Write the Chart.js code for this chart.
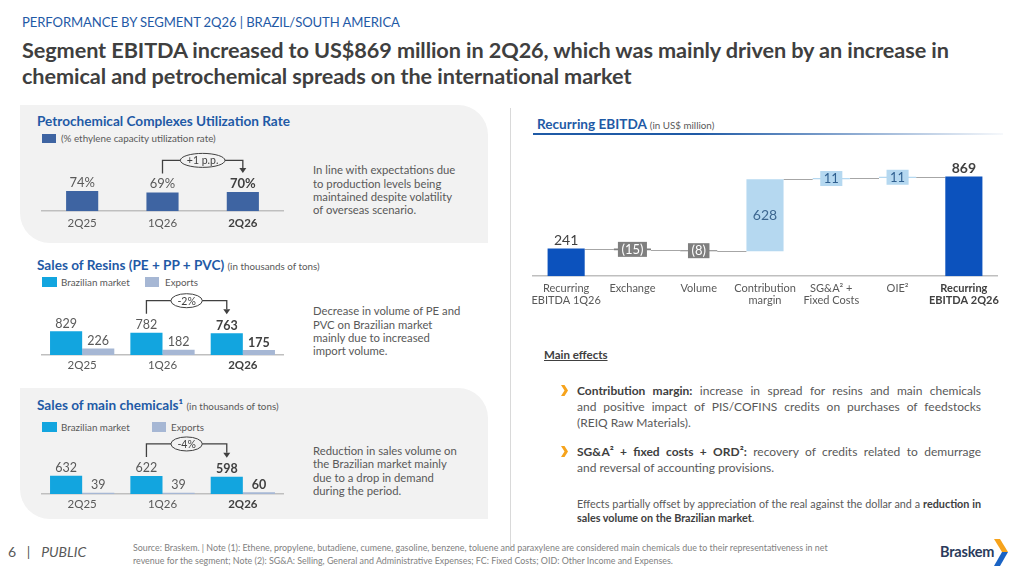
<!DOCTYPE html>
<html>
<head>
<meta charset="utf-8">
<script src="https://cdn.jsdelivr.net/npm/chart.js@4.4.1/dist/chart.umd.min.js"></script>
<style>
  body { margin: 0; width: 1019px; height: 573px; position: relative; overflow: hidden; background: #fff; font-family: Lato, "Open Sans", sans-serif; color: #595959; }
  .abs { position: absolute; white-space: nowrap; }
  .panel { position: absolute; background: #f2f2f2; border-radius: 0 30px 0 30px; }
  .hdr { color: #1f5aa6; font-size: 13.1px; line-height: 16px; letter-spacing: -0.1px; }
  .ttl { color: #3f3f3f; font-size: 21.7px; line-height: 26px; font-weight: 700; letter-spacing: -0.1px; }
  .sec { color: #1f5aa6; font-size: 13.6px; line-height: 16px; font-weight: 700; letter-spacing: 0; }
  .sec small { color: #595959; font-size: 9.8px; font-weight: 400; letter-spacing: 0; }
  .sq { position: absolute; }
  .leg { font-size: 9.8px; line-height: 12px; color: #595959; }
  .note { font-size: 11.3px; line-height: 13.3px; color: #595959; }
  .jl { text-align: justify; text-align-last: justify; white-space: nowrap; }
  .bul { font-size: 12px; line-height: 16px; color: #595959; width: 404px; }
  .bul b { color: #404040; }
  .par { font-size: 10.8px; line-height: 13.3px; color: #595959; width: 404px; }
  .par b { color: #404040; }
  canvas { position: absolute; }
</style>
</head>
<body>

<div class="abs hdr" style="left:22px;top:14px">PERFORMANCE BY SEGMENT 2Q26 | BRAZIL/SOUTH AMERICA</div>
<div class="abs ttl" style="left:22px;top:37px">Segment EBITDA increased to US$869 million in 2Q26, which was mainly driven by an increase in</div>
<div class="abs ttl" style="left:22px;top:63px">chemical and petrochemical spreads on the international market</div>

<div class="panel" style="left:20px;top:105px;width:468px;height:138px"></div>
<div class="panel" style="left:20px;top:388px;width:468px;height:131px"></div>
<div class="abs" style="left:510px;top:108px;width:1px;height:442px;background:#d9d9d9"></div>

<!-- utilization -->
<div class="abs sec" style="left:37px;top:113px">Petrochemical Complexes Utilization Rate</div>
<div class="sq" style="left:42px;top:134px;width:14px;height:9px;background:#3e64a2"></div>
<div class="abs leg" style="left:61px;top:132px">(% ethylene capacity utilization rate)</div>
<div class="abs note" style="left:313px;top:163.4px">In line with expectations due<br>to production levels being<br>maintained despite volatility<br>of overseas scenario.</div>
<canvas id="utilChart" width="300" height="102" style="left:0;top:133px"></canvas>

<!-- resins -->
<div class="abs sec" style="left:37px;top:257px">Sales of Resins (PE + PP + PVC) <small>(in thousands of tons)</small></div>
<div class="sq" style="left:42px;top:277px;width:15px;height:10px;background:#12a5df"></div>
<div class="abs leg" style="left:61px;top:276px">Brazilian market</div>
<div class="sq" style="left:145px;top:277px;width:14px;height:10px;background:#a6b7d4"></div>
<div class="abs leg" style="left:165px;top:276px">Exports</div>
<div class="abs note" style="left:313px;top:304.4px">Decrease in volume of PE and<br>PVC on Brazilian market<br>mainly due to increased<br>import volume.</div>
<canvas id="resinChart" width="300" height="88" style="left:0;top:288px"></canvas>

<!-- chemicals -->
<div class="abs sec" style="left:37px;top:397px">Sales of main chemicals¹ <small>(in thousands of tons)</small></div>
<div class="sq" style="left:42px;top:422px;width:15px;height:10px;background:#12a5df"></div>
<div class="abs leg" style="left:61px;top:421px">Brazilian market</div>
<div class="sq" style="left:152px;top:422px;width:14px;height:10px;background:#a6b7d4"></div>
<div class="abs leg" style="left:171px;top:421px">Exports</div>
<div class="abs note" style="left:313px;top:444px">Reduction in sales volume on<br>the Brazilian market mainly<br>due to a drop in demand<br>during the period.</div>
<canvas id="chemChart" width="300" height="89" style="left:0;top:426px"></canvas>

<!-- recurring EBITDA -->
<div class="abs sec" style="left:537px;top:116px">Recurring EBITDA <small>(in US$ million)</small></div>
<div class="abs" style="left:533px;top:133px;width:470px;height:1.5px;background:linear-gradient(to right,#1f5aa6,#1f5aa6 35%,rgba(31,90,166,0.04))"></div>
<canvas id="ebitdaChart" width="499" height="173" style="left:520px;top:140px"></canvas>

<div class="abs" style="left:544px;top:347px;font-size:11.5px;line-height:16px;font-weight:700;color:#404040;text-decoration:underline">Main effects</div>

<svg class="abs" style="left:561px;top:385px" width="7" height="11"><path d="M0,0 L3.5,0 L7,5.5 L3.5,11 L0,11 L3.5,5.5 Z" fill="#f6a31c"/></svg>
<div class="abs bul" style="left:577px;top:382.7px">
  <div class="jl"><b>Contribution margin:</b> increase in spread for resins and main chemicals</div>
  <div class="jl">and positive impact of PIS/COFINS credits on purchases of feedstocks</div>
  <div>(REIQ Raw Materials).</div>
</div>
<svg class="abs" style="left:561px;top:446px" width="7" height="11"><path d="M0,0 L3.5,0 L7,5.5 L3.5,11 L0,11 L3.5,5.5 Z" fill="#f6a31c"/></svg>
<div class="abs bul" style="left:577px;top:443.7px">
  <div class="jl"><b>SG&amp;A² + fixed costs + ORD²:</b> recovery of credits related to demurrage</div>
  <div>and reversal of accounting provisions.</div>
</div>
<div class="abs par" style="left:577px;top:497.3px">
  <div class="jl">Effects partially offset by appreciation of the real against the dollar and a <b>reduction in</b></div>
  <div><b>sales volume on the Brazilian market</b>.</div>
</div>

<!-- footer -->
<div class="abs" style="left:8px;top:543px;font-size:14px;line-height:18px;color:#595959">6&nbsp;&nbsp;&nbsp;|&nbsp;&nbsp;&nbsp;<i>PUBLIC</i></div>
<div class="abs" style="left:133px;top:540.5px;font-size:8.9px;line-height:13px;color:#7f7f7f">Source: Braskem. | Note (1): Ethene, propylene, butadiene, cumene, gasoline, benzene, toluene and paraxylene are considered main chemicals due to their representativeness in net<br>revenue for the segment; Note (2): SG&amp;A: Selling, General and Administrative Expenses; FC: Fixed Costs; OID: Other Income and Expenses.</div>
<div class="abs" style="left:940px;top:543px;font-size:14.5px;line-height:18px;font-weight:700;color:#2b3b5c;letter-spacing:-0.2px">Braskem</div>
<svg class="abs" style="left:994px;top:539px" width="15" height="27">
  <path d="M0,0 L6,0 L14,13 L8,13 Z" fill="#f6a31c"/>
  <path d="M8,13 L14,13 L6,27 L0,27 Z" fill="#1a63c4"/>
</svg>

<script>
// quarters shown in the three left charts
const periods = ['2Q25', '1Q26', '2Q26'];

// ethylene capacity utilization (%)
const utilization = [74, 69, 70];

// resins sales (thousand tons)
const resinsBrazil = [829, 782, 763];
const resinsExports = [226, 182, 175];

// main chemicals sales (thousand tons)
const chemBrazil = [632, 622, 598];
const chemExports = [39, 39, 60];

// change callouts between 1Q26 and 2Q26
const utilChange = '+1 p.p.';
const resinsChange = '-2%';
const chemChange = '-4%';

// recurring EBITDA bridge (US$ million)
const ebitdaSteps = [['Recurring', 'EBITDA 1Q26'], 'Exchange', 'Volume', ['Contribution', 'margin'],
  ['SG&A² +', 'Fixed Costs'], 'OIE²', ['Recurring', 'EBITDA 2Q26']];
const ebitdaValues = [241, -15, -8, 628, 11, 11, 869];
const ebitdaIsTotal = [true, false, false, false, false, false, true];

const blueBar = '#0c52bd';
const lightBar = '#b5d8f0';
const greyBar = '#7f7f7f';
const cyan = '#12a5df';
const steel = '#a6b7d4';

// labels over the bars, bold on the latest quarter
const valueLabels = {
  id: 'valueLabels',
  afterDatasetsDraw(chart, args, opts) {
    const ctx = chart.ctx;
    const n = chart.data.labels.length;
    chart.data.datasets.forEach((ds, d) => {
      chart.getDatasetMeta(d).data.forEach((bar, i) => {
        const last = i === n - 1;
        ctx.save();
        ctx.font = (last ? 'bold ' : '') + opts.size + 'px Lato';
        ctx.fillStyle = last ? '#404040' : '#595959';
        ctx.textAlign = 'center';
        ctx.textBaseline = 'alphabetic';
        ctx.fillText(ds.data[i] + (opts.suffix || ''), bar.x, bar.y - opts.gap);
        ctx.restore();
      });
    });
  }
};

// bracket with an oval from 1Q26 to 2Q26
const changeBracket = {
  id: 'changeBracket',
  afterDatasetsDraw(chart, args, opts) {
    const ctx = chart.ctx;
    const bars = chart.getDatasetMeta(0).data;
    const a = bars[1], b = bars[2];
    const lineY = a.y - 32;
    const leftEnd = a.y - 19;
    const tip = b.y - 19;
    ctx.save();
    ctx.strokeStyle = '#404040';
    ctx.fillStyle = '#404040';
    ctx.lineWidth = 1.3;
    ctx.beginPath();
    ctx.moveTo(a.x, leftEnd);
    ctx.lineTo(a.x, lineY);
    ctx.lineTo(b.x, lineY);
    ctx.lineTo(b.x, tip - 5);
    ctx.stroke();
    ctx.beginPath();
    ctx.moveTo(b.x - 3.5, tip - 5);
    ctx.lineTo(b.x + 3.5, tip - 5);
    ctx.lineTo(b.x, tip);
    ctx.closePath();
    ctx.fill();
    ctx.font = '10.5px Lato';
    const w = ctx.measureText(opts.text).width + 13;
    const cx = (a.x + b.x) / 2;
    ctx.beginPath();
    ctx.ellipse(cx, lineY, w / 2, 7, 0, 0, Math.PI * 2);
    ctx.fillStyle = opts.bg;
    ctx.fill();
    ctx.lineWidth = 1;
    ctx.stroke();
    ctx.fillStyle = '#404040';
    ctx.textAlign = 'center';
    ctx.textBaseline = 'middle';
    ctx.fillText(opts.text, cx, lineY + 0.5);
    ctx.restore();
  }
};

function side_config(datasets, maxY, change, bg, labelOpts, tickPad, catPct) {
  return {
    type: 'bar',
    data: { labels: periods, datasets: datasets },
    options: {
      responsive: false,
      animation: false,
      events: [],
      datasets: { bar: { categoryPercentage: catPct, barPercentage: 1 } },
      layout: { padding: { left: 42, right: 17, top: 10, bottom: 0 } },
      plugins: {
        legend: { display: false },
        tooltip: { enabled: false },
        valueLabels: labelOpts,
        changeBracket: { text: change, bg: bg }
      },
      scales: {
        x: {
          grid: { display: false, drawTicks: false },
          border: { display: true, color: '#bfbfbf', width: 1.5 },
          ticks: {
            padding: tickPad,
            color: c => c.index === 2 ? '#404040' : '#595959',
            font: c => ({ family: 'Lato', size: 11.5, lineHeight: 1.2, weight: c.index === 2 ? 'bold' : 'normal' })
          }
        },
        y: { display: false, min: 0, max: maxY }
      }
    },
    plugins: [valueLabels, changeBracket]
  };
}

new Chart(document.getElementById('utilChart'), side_config(
  [{ data: utilization, backgroundColor: '#3e64a2' }],
  250, utilChange, '#f2f2f2', { size: 13, gap: 4.5, suffix: '%' }, 5, 0.4));

new Chart(document.getElementById('resinChart'), side_config(
  [{ data: resinsBrazil, backgroundColor: cyan }, { data: resinsExports, backgroundColor: steel }],
  2000, resinsChange, '#ffffff', { size: 12.5, gap: 3.5 }, 3.6, 0.8));

new Chart(document.getElementById('chemChart'), side_config(
  [{ data: chemBrazil, backgroundColor: cyan }, { data: chemExports, backgroundColor: steel }],
  2000, chemChange, '#f2f2f2', { size: 12.5, gap: 3.5 }, 3.6, 0.8));

// floating ranges for the bridge
const ebitdaRanges = [];
let running = 0;
ebitdaValues.forEach((v, i) => {
  if (ebitdaIsTotal[i]) { ebitdaRanges.push([0, v]); running = v; }
  else { ebitdaRanges.push([running, running + v]); running += v; }
});
const ebitdaColors = ebitdaValues.map((v, i) => ebitdaIsTotal[i] ? blueBar : (v < 0 ? greyBar : lightBar));

const bridgeMarks = {
  id: 'bridgeMarks',
  beforeDatasetsDraw(chart) {
    // connector lines between consecutive bars
    const ctx = chart.ctx;
    const bars = chart.getDatasetMeta(0).data;
    const y = chart.scales.y;
    ctx.save();
    ctx.strokeStyle = '#a6a6a6';
    ctx.lineWidth = 1;
    for (let i = 0; i < bars.length - 1; i++) {
      const py = Math.round(y.getPixelForValue(ebitdaRanges[i][1])) + 0.5;
      ctx.beginPath();
      ctx.moveTo(bars[i].x + bars[i].width / 2, py);
      ctx.lineTo(bars[i + 1].x - bars[i + 1].width / 2, py);
      ctx.stroke();
    }
    ctx.restore();
  },
  afterDatasetsDraw(chart) {
    const ctx = chart.ctx;
    const bars = chart.getDatasetMeta(0).data;
    bars.forEach((bar, i) => {
      const v = ebitdaValues[i];
      const txt = v < 0 ? '(' + Math.abs(v) + ')' : String(v);
      const top = Math.min(bar.y, bar.base);
      const mid = (bar.y + bar.base) / 2;
      const h = Math.abs(bar.base - bar.y);
      ctx.save();
      ctx.textAlign = 'center';
      if (ebitdaIsTotal[i]) {
        const last = i === bars.length - 1;
        ctx.font = (last ? 'bold ' : '') + '14px Lato';
        ctx.fillStyle = '#404040';
        ctx.textBaseline = 'alphabetic';
        ctx.fillText(txt, bar.x, top - 4);
      } else if (h > 20) {
        ctx.font = '14px Lato';
        ctx.fillStyle = '#3d6790';
        ctx.textBaseline = 'middle';
        ctx.fillText(txt, bar.x, mid);
      } else {
        ctx.font = '13px Lato';
        const w = ctx.measureText(txt).width + 7;
        ctx.fillStyle = v < 0 ? greyBar : lightBar;
        ctx.fillRect(bar.x - w / 2, mid - 7.5, w, 15);
        ctx.fillStyle = v < 0 ? '#ffffff' : '#2f5f8f';
        ctx.textBaseline = 'middle';
        ctx.fillText(txt, bar.x, mid + 0.5);
      }
      ctx.restore();
    });
  }
};

new Chart(document.getElementById('ebitdaChart'), {
  type: 'bar',
  data: {
    labels: ebitdaSteps,
    datasets: [{ data: ebitdaRanges, backgroundColor: ebitdaColors, categoryPercentage: 1, barPercentage: 0.56 }]
  },
  options: {
    responsive: false,
    animation: false,
    events: [],
    layout: { padding: { left: 13, right: 22, top: 21.5, bottom: 0 } },
    plugins: { legend: { display: false }, tooltip: { enabled: false } },
    scales: {
      x: {
        grid: { display: false, drawTicks: false },
        border: { display: true, color: '#bfbfbf', width: 1.5 },
        ticks: {
          padding: 6,
          maxRotation: 0,
          autoSkip: false,
          color: c => c.index === 6 ? '#404040' : '#595959',
          font: c => ({ family: 'Lato', size: 11, lineHeight: 1.13, weight: c.index === 6 ? 'bold' : 'normal' })
        }
      },
      y: { display: false, min: 0, max: 1000 }
    }
  },
  plugins: [bridgeMarks]
});
</script>
</body>
</html>
